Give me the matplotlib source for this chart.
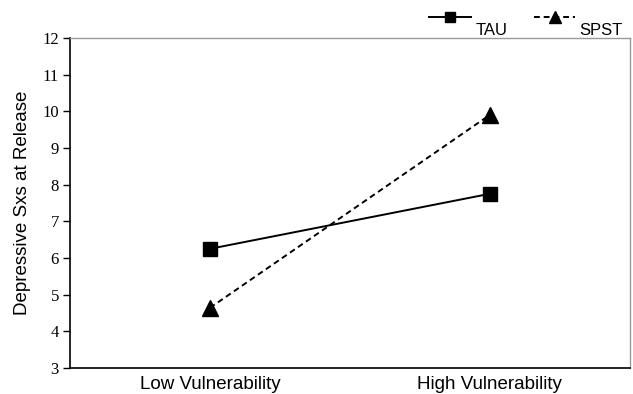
import matplotlib.pyplot as plt
import numpy as np

# data
groups = ['Low Vulnerability', 'High Vulnerability']
tau = [6.25, 7.75]
spst = [4.64, 9.9]
yticks = list(range(3, 13))

fig = plt.figure(figsize=(6.33, 3.94), dpi=100)
ax = fig.add_axes([0.1106, 0.066, 0.884, 0.8376])

x = np.arange(len(groups))
ax.plot(x, tau, color='black', lw=1.4, ls='-', marker='s', ms=10, label='TAU')
ax.plot(x, spst, color='black', lw=1.4, ls=(0, (3, 2)), marker='^', ms=11, label='SPST')

ax.set_xlim(-0.5, 1.5)
ax.set_ylim(3, 12)
ax.set_yticks(yticks)
ax.set_yticklabels([str(t) for t in yticks], family='Liberation Serif', fontsize=12)
ax.set_xticks(x)
ax.set_xticklabels(groups, family='Liberation Sans', fontsize=13.5)
ax.tick_params(axis='x', length=0, pad=6)
ax.tick_params(axis='y', length=5, width=1, direction='out', pad=3)
ax.set_ylabel('Depressive Sxs at Release', family='Liberation Sans', fontsize=13.5, labelpad=8)

for s in ['top', 'right']:
    ax.spines[s].set_color('#999999')
    ax.spines[s].set_linewidth(1)
for s in ['left', 'bottom']:
    ax.spines[s].set_color('black')
    ax.spines[s].set_linewidth(1.2)

leg = ax.legend(loc='lower right', bbox_to_anchor=(1.0, 1.017), ncol=2, frameon=False,
                prop={'family': 'Liberation Sans', 'size': 12}, handlelength=2.5,
                handletextpad=0.25, columnspacing=1.6, borderaxespad=0.0, markerscale=0.75)
for t in leg.get_texts():
    t.set_va('top')

plt.savefig('out.png', dpi=100)
